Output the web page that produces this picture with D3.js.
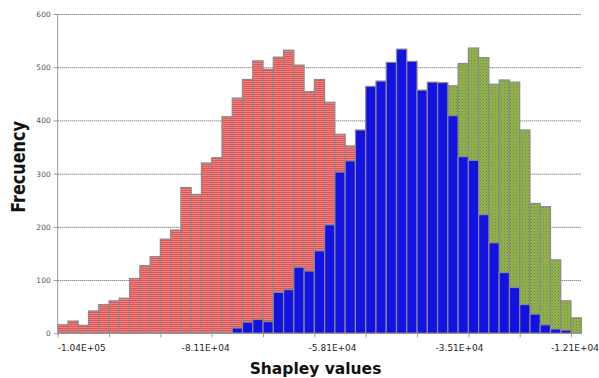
<!DOCTYPE html>
<html>
<head>
<meta charset="utf-8">
<script src="https://cdn.jsdelivr.net/npm/d3@7"></script>
<style>
  html, body { margin: 0; padding: 0; background: #fff; }
  svg { display: block; }
</style>
</head>
<body>
<svg id="chart" width="599" height="378"></svg>
<script>
// Histogram bins shared by the three series
const binStart = -107900;
const binWidth = 1860;
const binCount = 51;

// Frequencies per bin; each series starts at the given bin index
const redFirstBin = 0;
const redCounts = [16, 23, 15, 42, 54, 61, 66, 103, 127, 144, 177, 194, 274, 261, 320,
                   330, 407, 442, 477, 512, 496, 519, 532, 504, 454, 477, 434, 374, 352];

const greenFirstBin = 38;
const greenCounts = [465, 507, 536, 518, 468, 476, 472, 382, 244, 238, 138, 61, 29];

const blueFirstBin = 15;
const blueCounts = [2, 0, 10, 21, 26, 22, 77, 82, 124, 117, 155, 204, 303, 324, 382,
                    464, 474, 509, 534, 511, 457, 472, 471, 409, 332, 325, 223, 170,
                    114, 86, 54, 36, 16, 8, 6, 0];

// Axis labels
const xLabelValues = [-104000, -81100, -58100, -35100, -12100];
const xLabelTexts = ["-1.04E+05", "-8.11E+04", "-5.81E+04", "-3.51E+04", "-1.21E+04"];
const yTicks = [0, 100, 200, 300, 400, 500, 600];

const svg = d3.select("#chart");
const W = 599, H = 378;
const plotLeft = 57.7, plotRight = 581.3, plotTop = 14, plotBottom = 333.3;

const x = d3.scaleLinear()
  .domain([binStart, binStart + binCount * binWidth])
  .range([plotLeft, plotRight]);
const y = d3.scaleLinear().domain([0, 600]).range([plotBottom, plotTop]);

// Fill patterns
const defs = svg.append("defs");
const pRed = defs.append("pattern").attr("id", "stripes").attr("patternUnits", "userSpaceOnUse")
  .attr("width", 4).attr("height", 2);
pRed.append("rect").attr("width", 4).attr("height", 2).attr("fill", "#f08282");
pRed.append("rect").attr("width", 4).attr("height", 1).attr("fill", "#dc5454");

const pGreen = defs.append("pattern").attr("id", "dots").attr("patternUnits", "userSpaceOnUse")
  .attr("width", 3).attr("height", 3);
pGreen.append("rect").attr("width", 3).attr("height", 3).attr("fill", "#94b34e");
pGreen.append("rect").attr("x", 0).attr("y", 0).attr("width", 1).attr("height", 1).attr("fill", "#6e8e36");
pGreen.append("rect").attr("x", 1.5).attr("y", 1.5).attr("width", 1).attr("height", 1).attr("fill", "#7c9c40");

// Horizontal dotted gridlines
svg.append("g")
  .attr("transform", `translate(${plotLeft},0)`)
  .call(d3.axisLeft(y).tickValues(yTicks.filter(d => d > 0)).tickSize(-(plotRight - plotLeft)).tickFormat(""))
  .call(g => g.select(".domain").remove())
  .call(g => g.selectAll(".tick line")
    .attr("stroke", "#555").attr("stroke-dasharray", "1,1").attr("stroke-width", 1));

// Bars
function drawSeries(counts, firstBin, fill) {
  const data = counts.map((c, i) => ({ bin: firstBin + i, count: c })).filter(d => d.count > 0);
  svg.append("g").selectAll("rect").data(data).join("rect")
    .attr("x", d => x(binStart + d.bin * binWidth))
    .attr("width", d => x(binStart + (d.bin + 1) * binWidth) - x(binStart + d.bin * binWidth))
    .attr("y", d => y(d.count))
    .attr("height", d => y(0) - y(d.count))
    .attr("fill", fill)
    .attr("stroke", "#8a8a8a")
    .attr("stroke-width", 1.2);
}
drawSeries(redCounts, redFirstBin, "url(#stripes)");
drawSeries(greenCounts, greenFirstBin, "url(#dots)");
drawSeries(blueCounts, blueFirstBin, "#1212e2");

// Y axis
svg.append("g")
  .attr("transform", `translate(${plotLeft},0)`)
  .call(d3.axisLeft(y).tickValues(yTicks).tickSize(4).tickPadding(3))
  .call(g => g.select(".domain").attr("stroke", "#9a9a9a").attr("d", `M0,${plotTop}V${plotBottom}`))
  .call(g => g.selectAll(".tick line").attr("stroke", "#9a9a9a"))
  .call(g => g.selectAll(".tick text")
    .attr("font-family", "DejaVu Sans").attr("font-size", 7.5).attr("fill", "#555"));

// X axis tick marks every five bins
const xTickVals = d3.range(0, binCount, 5).map(i => binStart + i * binWidth);
svg.append("g")
  .attr("transform", `translate(0,${plotBottom})`)
  .call(d3.axisBottom(x).tickValues(xTickVals).tickSize(4).tickFormat(""))
  .call(g => g.select(".domain").attr("stroke", "#9a9a9a").attr("d", `M${plotLeft},0H${plotRight}`))
  .call(g => g.selectAll(".tick line").attr("stroke", "#9a9a9a"));

// X value labels, kept inside the drawing area
const xl = svg.append("g").selectAll("text").data(xLabelValues).join("text")
  .attr("x", d => x(d))
  .attr("y", 350.7)
  .attr("text-anchor", "middle")
  .attr("font-family", "DejaVu Sans")
  .attr("font-size", 9)
  .attr("fill", "#262626")
  .text((d, i) => xLabelTexts[i]);
xl.each(function (d) {
  const w = this.getComputedTextLength();
  let cx = x(d);
  if (cx - w / 2 < plotLeft) cx = plotLeft + w / 2;
  if (cx + w / 2 > W) cx = W - w / 2;
  d3.select(this).attr("x", cx);
});

// Axis titles
svg.append("text")
  .attr("x", 315.5).attr("y", 373.5)
  .attr("text-anchor", "middle")
  .attr("font-family", "DejaVu Sans").attr("font-weight", "bold")
  .attr("font-size", 15.5).attr("fill", "#111")
  .text("Shapley values");

svg.append("text")
  .attr("transform", "translate(25,167) scale(1.25,1) rotate(-90)")
  .attr("text-anchor", "middle")
  .attr("font-family", "DejaVu Sans").attr("font-weight", "bold")
  .attr("font-size", 16).attr("fill", "#111")
  .text("Frecuency");
</script>
</body>
</html>
